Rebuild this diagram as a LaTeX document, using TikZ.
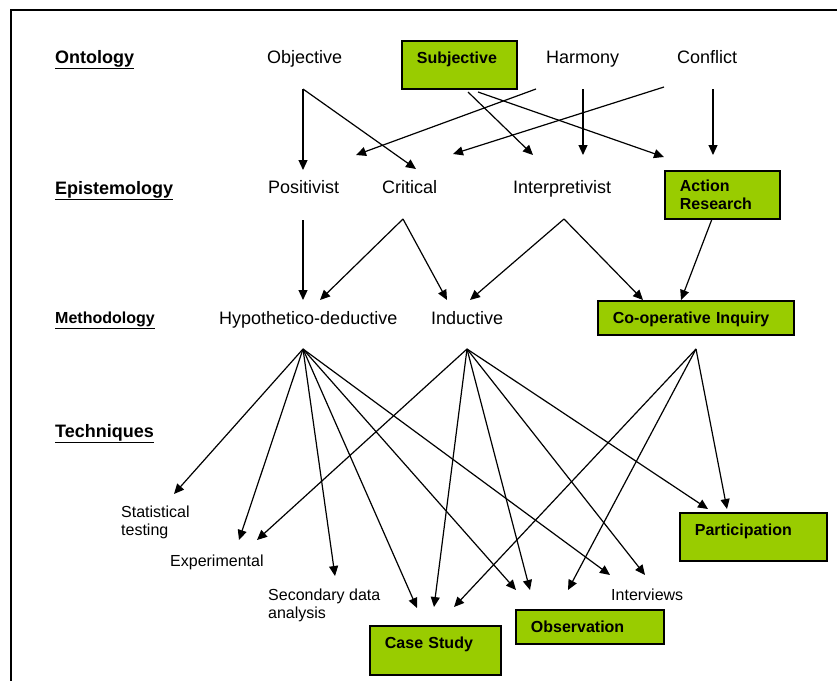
\documentclass[tikz,border=0pt]{standalone}
\usepackage{fontspec}
\setmainfont{Liberation Sans}
\usetikzlibrary{arrows.meta}
\definecolor{boxgreen}{RGB}{153,204,0}
\tikzset{
  head/.style={anchor=base west, inner sep=0pt, font=\fontsize{18}{20}\selectfont\bfseries},
  term/.style={anchor=base west, inner sep=0pt, font=\fontsize{18}{20}\selectfont},
  tech/.style={anchor=north west, inner sep=0pt, align=left, font=\fontsize{16}{18}\selectfont},
  greenbox/.style={draw, line width=1.8pt, fill=boxgreen, anchor=north west, inner xsep=15pt, inner ysep=11pt, text height=12pt, align=left, font=\fontsize{16}{18}\selectfont\bfseries},
  link/.style={line width=1.2pt, -{Triangle[length=10pt,width=9pt]}}
}
\begin{document}
\begin{tikzpicture}[x=1pt,y=-1pt]
    \useasboundingbox (0,0) rectangle (837,681);
    \draw[line width=2pt] (837,10) -- (11,10) -- (11,681);

    % row headings
    \node[head] (onto) at (55,63) {\underline{Ontology}};
    \node[head] (epis) at (55,194) {\underline{Epistemology}};
    \node[head,font=\fontsize{16}{18}\selectfont\bfseries] (meth) at (55,323) {\underline{Methodology}};
    \node[head] (tech) at (55,437) {\underline{Techniques}};

    % ontology
    \node[term] (obj) at (267,63) {Objective};
    \node[greenbox,text width=85pt,text depth=14pt] (sub) at (401,40) {Subjective};
    \node[term] (har) at (546,63) {Harmony};
    \node[term] (con) at (677,63) {Conflict};

    % epistemology
    \node[term] (pos) at (268,193) {Positivist};
    \node[term] (cri) at (382,193) {Critical};
    \node[term] (inp) at (513,193) {Interpretivist};
    \node[greenbox,text width=85pt,text depth=18pt,inner ysep=9pt] (act) at (664,170) {Action\\Research};

    % methodology
    \node[term] (hyp) at (219,324) {Hypothetico-deductive};
    \node[term] (ind) at (431,324) {Inductive};
    \node[greenbox,text width=166pt,text depth=0pt] (coo) at (597,300) {Co-operative Inquiry};

    % techniques
    \node[tech] (sta) at (121,506) {Statistical\\testing};
    \node[tech] (exp) at (170,554.5) {Experimental};
    \node[tech] (sec) at (268,588.5) {Secondary data\\analysis};
    \node[tech] (itv) at (611,588.5) {Interviews};
    \node[greenbox,text width=117pt,text depth=14pt] (par) at (679,512) {Participation};
    \node[greenbox,text width=101pt,text depth=15pt] (cas) at (369,625) {Case Study};
    \node[greenbox,text width=118pt,text depth=0pt] (obs) at (515,609) {Observation};

    % arrow ends
    \coordinate (obj') at (303,89);
    \coordinate (sub'1) at (468,92);
    \coordinate (sub'2) at (478,92);
    \coordinate (har'1) at (536,89);
    \coordinate (har'2) at (583,89);
    \coordinate (con'1) at (664,87);
    \coordinate (con'2) at (713,89);
    \coordinate (pos1) at (303,170);
    \coordinate (pos2) at (356,155);
    \coordinate (cri1) at (416,169);
    \coordinate (cri2) at (453,154);
    \coordinate (inp1) at (533,155);
    \coordinate (inp2) at (583,155);
    \coordinate (act1) at (664,157);
    \coordinate (act2) at (713,155);

    \draw[link] (obj') to (pos1);
    \draw[link] (obj') to (cri1);
    \draw[link] (har'1) to (pos2);
    \draw[link] (con'1) to (cri2);
    \draw[link] (sub'1) to (inp1);
    \draw[link] (har'2) to (inp2);
    \draw[link] (sub'2) to (act1);
    \draw[link] (con'2) to (act2);

    \coordinate (pos') at (303,220);
    \coordinate (cri') at (403,219);
    \coordinate (inp') at (564,219);
    \coordinate (act') at (712,219);
    \coordinate (hyp1) at (303,300);
    \coordinate (hyp2) at (320,300);
    \coordinate (ind1) at (447,300);
    \coordinate (ind2) at (470,300);
    \coordinate (coo1) at (643,300);
    \coordinate (coo2) at (681,300);

    \draw[link] (pos') to (hyp1);
    \draw[link] (cri') to (hyp2);
    \draw[link] (cri') to (ind1);
    \draw[link] (inp') to (ind2);
    \draw[link] (inp') to (coo1);
    \draw[link] (act') to (coo2);

    \coordinate (hyp') at (303,349);
    \coordinate (ind') at (467,349);
    \coordinate (coo') at (696,349);
    \coordinate (sta1) at (174,494);
    \coordinate (exp1) at (239,540);
    \coordinate (exp2) at (257,540);
    \coordinate (sec1) at (335,576);
    \coordinate (cas1) at (417,608);
    \coordinate (cas2) at (434,607);
    \coordinate (cas3) at (454,607);
    \coordinate (obs1) at (516,590);
    \coordinate (obs2) at (530,590);
    \coordinate (obs3) at (568,590);
    \coordinate (itv1) at (610,575);
    \coordinate (itv2) at (645,575);
    \coordinate (par1) at (708,509);
    \coordinate (par2) at (727,509);

    \draw[link] (hyp') to (sta1);
    \draw[link] (hyp') to (exp1);
    \draw[link] (hyp') to (sec1);
    \draw[link] (hyp') to (cas1);
    \draw[link] (hyp') to (obs1);
    \draw[link] (hyp') to (itv1);

    \draw[link] (ind') to (exp2);
    \draw[link] (ind') to (cas2);
    \draw[link] (ind') to (obs2);
    \draw[link] (ind') to (itv2);
    \draw[link] (ind') to (par1);

    \draw[link] (coo') to (cas3);
    \draw[link] (coo') to (obs3);
    \draw[link] (coo') to (par2);
\end{tikzpicture}
\end{document}
